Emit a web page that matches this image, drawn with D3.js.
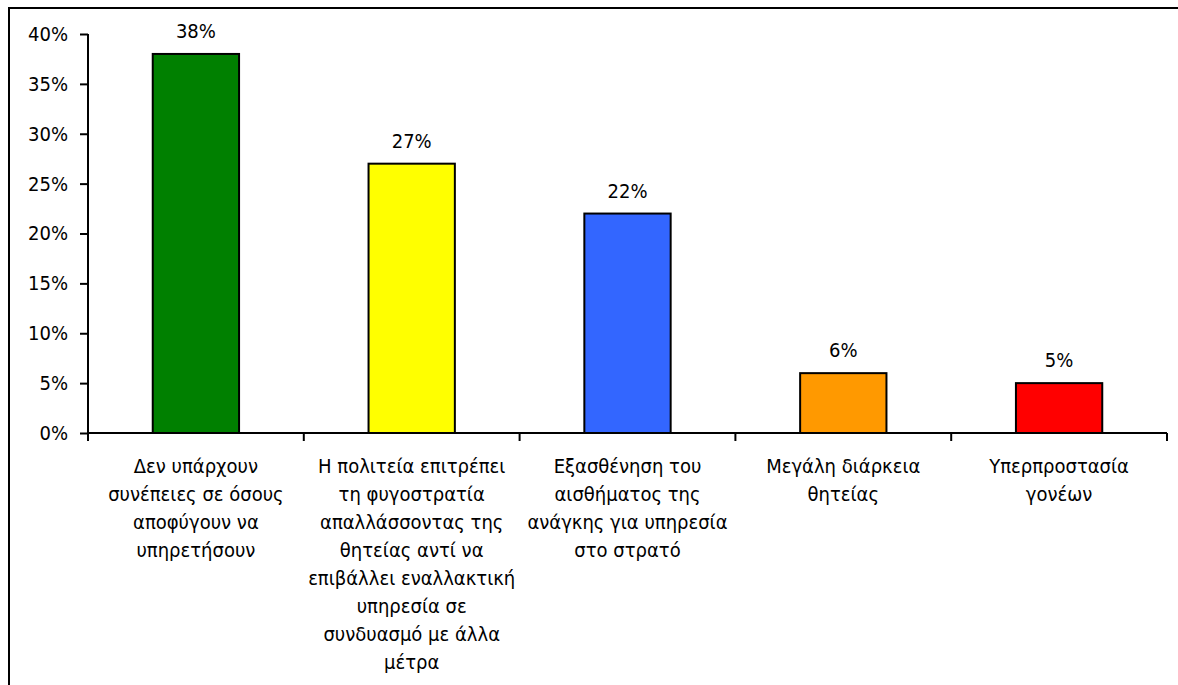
<!DOCTYPE html>
<html>
<head>
<meta charset="utf-8">
<script src="https://cdn.jsdelivr.net/npm/d3@7"></script>
<style>
html,body{margin:0;padding:0;background:#fff;}
svg text{font-family:"DejaVu Sans Condensed","DejaVu Sans",Tahoma,sans-serif;fill:#000;}
</style>
</head>
<body>
<svg id="chart" width="1178" height="685"></svg>
<script>
const categories = [
  ["Δεν υπάρχουν", "συνέπειες σε όσους", "αποφύγουν να", "υπηρετήσουν"],
  ["Η πολιτεία επιτρέπει", "τη φυγοστρατία", "απαλλάσσοντας της", "θητείας αντί να", "επιβάλλει εναλλακτική", "υπηρεσία σε", "συνδυασμό με άλλα", "μέτρα"],
  ["Εξασθένηση του", "αισθήματος της", "ανάγκης για υπηρεσία", "στο στρατό"],
  ["Μεγάλη διάρκεια", "θητείας"],
  ["Υπερπροστασία", "γονέων"]
];
const values = [0.38, 0.27, 0.22, 0.06, 0.05];
const colors = ["#008000", "#FFFF00", "#3366FF", "#FF9900", "#FF0000"];
const yTicks = [0, 0.05, 0.10, 0.15, 0.20, 0.25, 0.30, 0.35, 0.40];

const svg = d3.select("#chart");
const mLeft = 88, mRight = 1167, mTop = 34, mBottom = 433;
const FONT = "DejaVu Sans Condensed";

// frame
svg.append("rect").attr("x", 9).attr("y", 8).attr("width", 1200).attr("height", 720)
  .attr("fill", "none").attr("stroke", "#000").attr("stroke-width", 2);

const x = d3.scaleBand().domain(d3.range(categories.length)).range([mLeft, mRight]).paddingInner(0.6).paddingOuter(0.3);
const y = d3.scaleLinear().domain([0, 0.4]).range([mBottom, mTop]);

const fs = 20;
const yAxis = svg.append("g").attr("transform", `translate(${mLeft},0)`)
  .call(d3.axisLeft(y).tickValues(yTicks).tickFormat(d3.format(".0%")).tickSize(8).tickPadding(12));
yAxis.select(".domain").attr("stroke", "#000").attr("stroke-width", 2).attr("d", `M0,${mTop}V${mBottom}`);
yAxis.selectAll(".tick line").attr("stroke", "#000").attr("stroke-width", 2);
yAxis.selectAll(".tick text").attr("font-size", fs).attr("font-family", FONT);

// bars
svg.selectAll("rect.bar").data(values).join("rect").attr("class", "bar")
  .attr("x", (d, i) => x(i)).attr("width", x.bandwidth())
  .attr("y", d => y(d)).attr("height", d => y(0) - y(d))
  .attr("fill", (d, i) => colors[i]).attr("stroke", "#000").attr("stroke-width", 2);

// x axis
const step = (mRight - mLeft) / categories.length;
svg.append("line").attr("x1", mLeft).attr("x2", mRight).attr("y1", mBottom).attr("y2", mBottom)
  .attr("stroke", "#000").attr("stroke-width", 2);
d3.range(categories.length + 1).forEach(i => {
  const xx = mLeft + i * step;
  svg.append("line").attr("x1", xx).attr("x2", xx).attr("y1", mBottom).attr("y2", mBottom + 8)
    .attr("stroke", "#000").attr("stroke-width", 2);
});

// value labels
svg.selectAll("text.val").data(values).join("text").attr("class", "val")
  .attr("x", (d, i) => x(i) + x.bandwidth() / 2).attr("y", d => y(d) - 16)
  .attr("text-anchor", "middle").attr("font-size", fs)
  .text(d => d3.format(".0%")(d));

// category labels
categories.forEach((lines, i) => {
  const cx = mLeft + (i + 0.5) * step;
  const t = svg.append("text").attr("text-anchor", "middle").attr("font-size", fs);
  lines.forEach((ln, j) => {
    t.append("tspan").attr("x", cx).attr("y", 473 + j * 28).text(ln);
  });
});
</script>
</body>
</html>
